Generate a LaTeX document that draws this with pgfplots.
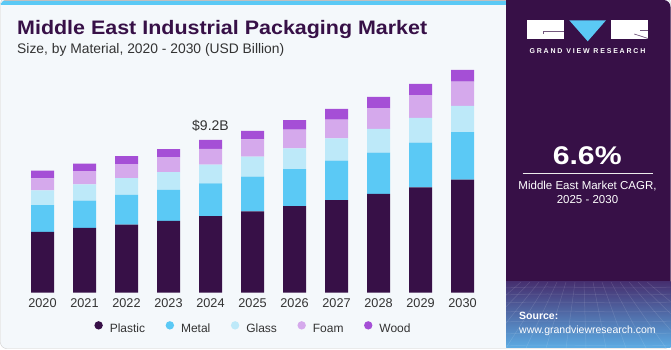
\documentclass[border=0pt]{standalone}
\usepackage{fontspec}
\setmainfont{Liberation Sans}
\newfontfamily\titlefont[FakeStretch=1.1]{Liberation Sans}
\newfontfamily\numfont[FakeStretch=1.18]{Liberation Sans}
\newfontfamily\logofont[LetterSpace=26]{Liberation Sans}
\usepackage{pgfplots}
\pgfplotsset{compat=1.18}
\usepackage{pgfplotstable}
\definecolor{plasticc}{RGB}{55,16,71}
\definecolor{metalc}{RGB}{91,201,245}
\definecolor{glassc}{RGB}{189,233,249}
\definecolor{foamc}{RGB}{213,169,236}
\definecolor{woodc}{RGB}{165,79,214}
\definecolor{bgc}{RGB}{244,248,251}
\definecolor{panelc}{RGB}{55,16,71}
\definecolor{txtc}{RGB}{51,51,51}
\definecolor{stripec}{RGB}{91,201,245}

\pgfplotstableread{
x P M G F W
0 3.66 1.61 0.90 0.72 0.46
1 3.90 1.64 0.99 0.80 0.44
2 4.10 1.79 1.01 0.84 0.48
3 4.32 1.87 1.08 0.90 0.48
4 4.62 1.97 1.12 0.95 0.54
5 4.90 2.09 1.20 1.04 0.52
6 5.22 2.23 1.25 1.12 0.57
7 5.57 2.39 1.33 1.14 0.64
8 5.95 2.49 1.43 1.25 0.68
9 6.35 2.69 1.49 1.37 0.68
10 6.81 2.87 1.58 1.45 0.72
}\datatable

\begin{document}
\begin{tikzpicture}
\useasboundingbox (0pt,0pt) rectangle (671pt,350pt);
\begin{scope}[x=1pt,y=1pt]
% card
\fill[white] (0,0) rectangle (671,350);
\draw[black!20, fill=bgc, rounded corners=6pt] (0.5,1.5) rectangle (670.5,352);
\begin{scope}
\clip[rounded corners=6pt] (0.5,1.5) rectangle (670.5,350);
\fill[stripec] (0,345) rectangle (506,350);
\draw[black!25, line width=0.6pt] (0,349.7) -- (506,349.7);
\end{scope}
% right panel
\fill[panelc, rounded corners=7pt] (506,2) rectangle (670.5,350);
\fill[panelc] (506,2) rectangle (520,350);
\shade[top color={rgb,255:red,70;green,48;blue,112}, middle color={rgb,255:red,78;green,105;blue,170}, bottom color={rgb,255:red,92;green,172;blue,228}] (506,2) rectangle (670.5,68);
\begin{scope}
\clip (506,2) rectangle (670.5,68);
\foreach \yy in {62,55,47,38,28,16,4} {\draw[white, opacity=0.13, line width=0.5pt] (506,\yy) .. controls (560,\yy+3) and (620,\yy-2) .. (671,\yy+1);}
\foreach \xx in {-60,-40,-20,0,20,40,60,80,100,120,140,160,180,200,220} {\draw[white, opacity=0.13, line width=0.5pt] (588+0.45*\xx-40,68) -- (506+\xx,2);}
\end{scope}
% logo
\fill[white] (527.3,310.7) rectangle (564,329.5);
\fill[stripec] (569.3,329.7) -- (606,329.7) -- (587.7,308.7) -- cycle;
\fill[white] (610.7,310.7) rectangle (648,329.5);
\draw[panelc!70!white, line width=0.7pt] (564,319) -- (543.3,319) -- (543.3,316);
\draw[panelc!70!white, line width=0.7pt] (634.3,316) -- (648,311.5);
\draw[panelc!70!white, line width=0.5pt] (640,319.5) -- (648,319.5);
\node[anchor=base, text=white, inner sep=0pt, font=\logofont\fontsize{7}{8}\selectfont\bfseries] at (587.5,296.7) {GRAND VIEW RESEARCH};
% panel texts
\node[anchor=base, text=white, inner sep=0pt, font=\numfont\fontsize{25.6}{28}\selectfont\bfseries] at (587.2,185.7) {6.6\%};
\draw[white!85!gray, line width=0.8pt] (522.7,176.7) -- (652.7,176.7);
\node[anchor=base, text=white, inner sep=0pt, font=\fontsize{11.5}{13}\selectfont] at (587.5,160) {Middle East Market CAGR,};
\node[anchor=base, text=white, inner sep=0pt, font=\fontsize{11.5}{13}\selectfont] at (587.5,146) {2025 - 2030};
\node[anchor=base west, text=white, inner sep=0pt, font=\fontsize{10.5}{12}\selectfont\bfseries] at (519,30) {Source:};
\node[anchor=base west, text=white, inner sep=0pt, font=\fontsize{10.5}{12}\selectfont] at (519,16.7) {www.grandviewresearch.com};
% titles
\node[anchor=base west, text=panelc, inner sep=0pt, font=\titlefont\fontsize{19.5}{22}\selectfont\bfseries] at (17,315.7) {Middle East Industrial Packaging Market};
\node[anchor=base west, text=txtc, inner sep=0pt, font=\fontsize{13.85}{16}\selectfont] at (17,296.7) {Size, by Material, 2020 - 2030 (USD Billion)};
\end{scope}
% chart
\begin{axis}[
  at={(21.5pt,57.3pt)}, anchor=south west,
  scale only axis, width=462pt, height=232.4pt,
  xmin=-0.5, xmax=10.5, ymin=0, ymax=14,
  ybar stacked, bar width=23pt,
  axis line style={draw=none},
  ytick=\empty,
  xtick={0,...,10},
  xticklabels={2020,2021,2022,2023,2024,2025,2026,2027,2028,2029,2030},
  major tick length=0pt,
  xticklabel style={anchor=base, yshift=-14.6pt, text=txtc, font=\fontsize{12.7}{14}\selectfont, inner sep=0pt},
  clip=false,
  legend columns=5,
  legend image code/.code={\fill[#1, draw=none] (0pt,3.8pt) circle (4.2pt);},
  legend style={at={(0.5,-0.1506)}, anchor=center, draw=none, fill=none,
    font=\fontsize{12}{14}\selectfont, text=txtc,
    nodes={inner sep=0pt},
    /tikz/every odd column/.append style={column sep=7pt},
    /tikz/every even column/.append style={column sep=20.5pt}},
]
\addplot[fill=plasticc, draw=none] table[x=x, y=P] {\datatable};
\addplot[fill=metalc, draw=none] table[x=x, y=M] {\datatable};
\addplot[fill=glassc, draw=none] table[x=x, y=G] {\datatable};
\addplot[fill=foamc, draw=none] table[x=x, y=F] {\datatable};
\addplot[fill=woodc, draw=none] table[x=x, y=W] {\datatable};
\legend{Plastic, Metal, Glass, Foam, Wood}
\node[anchor=base, inner sep=0pt, text=txtc, font=\fontsize{14}{16}\selectfont] at (axis cs:4,9.8) {\$9.2B};
\end{axis}
\end{tikzpicture}
\end{document}
